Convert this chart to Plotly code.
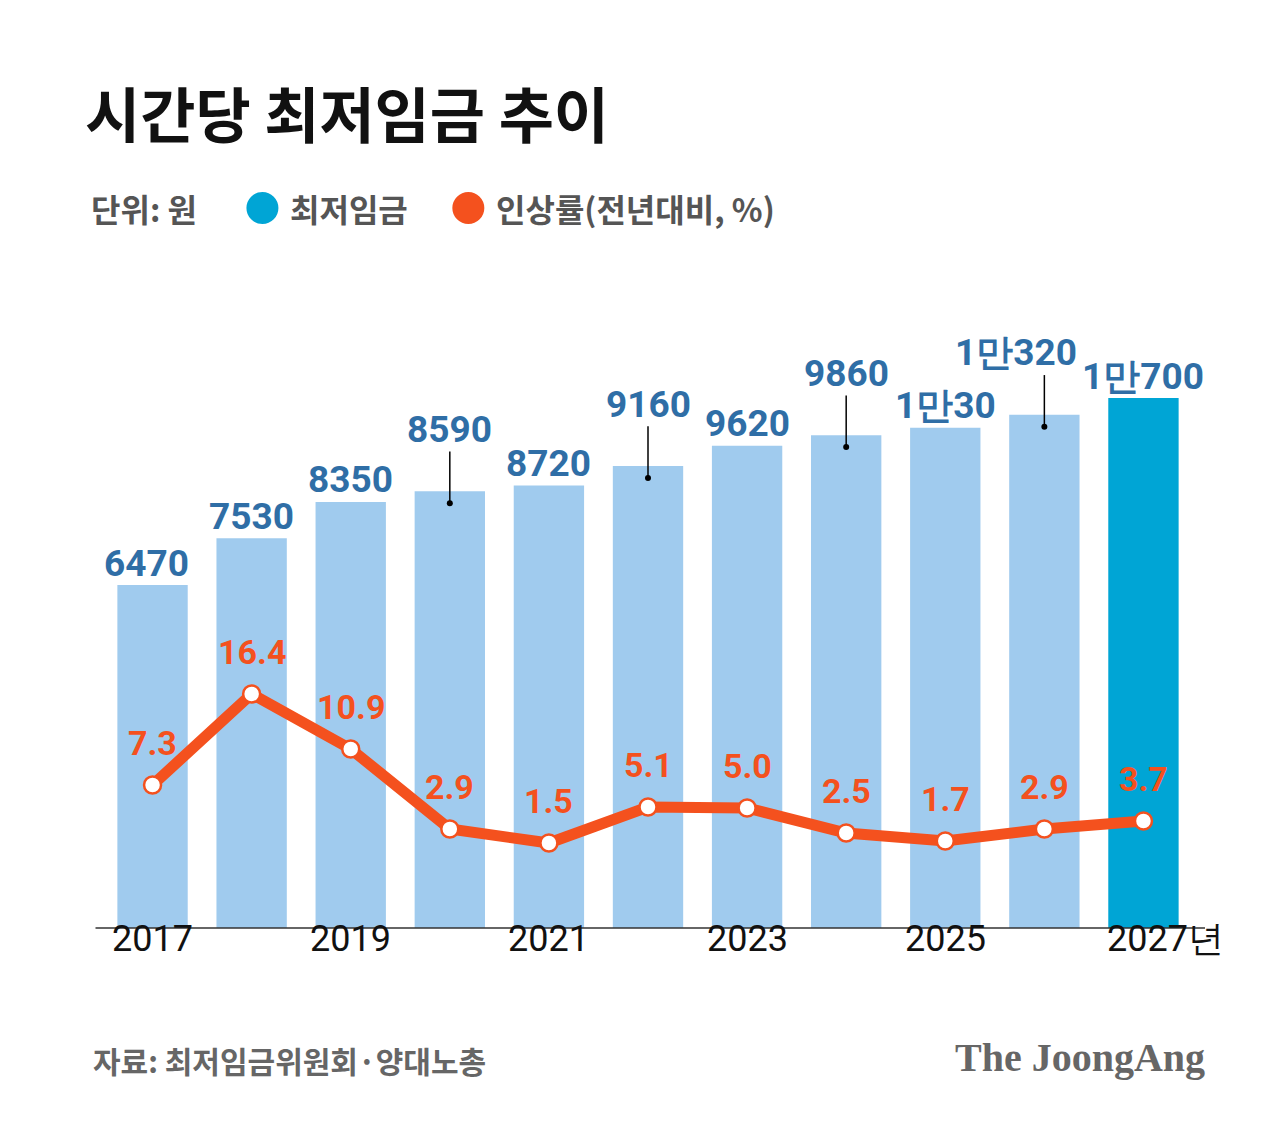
import plotly.graph_objects as go

years = [2017, 2018, 2019, 2020, 2021, 2022, 2023, 2024, 2025, 2026, 2027]
wage = [6470, 7530, 8350, 8590, 8720, 9160, 9620, 9860, 10030, 10320, 10700]
wage_labels = ["6470", "7530", "8350", "8590", "8720", "9160", "9620", "9860", "1만30", "1만320", "1만700"]
rate = [7.3, 16.4, 10.9, 2.9, 1.5, 5.1, 5.0, 2.5, 1.7, 2.9, 3.7]
rate_labels = ["7.3", "16.4", "10.9", "2.9", "1.5", "5.1", "5.0", "2.5", "1.7", "2.9", "3.7"]
raised = [False, False, False, True, False, True, False, True, False, True, False]
tick_years = [2017, 2019, 2021, 2023, 2025, 2027]
tick_text = ["2017", "2019", "2021", "2023", "2025", "2027년"]

BASE = -1290
W, H = 1287, 1148
OFF = 8  # page offset seen in the render
L, R, T, B = 102.5 - OFF, 1193 - OFF, 280 - OFF, 928 - OFF

def px(x): return (x - OFF - L) / (R - L)
def py(y): return (B - (y - OFF)) / (B - T)

bar_colors = ["#a0cbee"] * 10 + ["#00a5d5"]
fig = go.Figure()
fig.add_bar(x=years, y=[w - BASE for w in wage], base=BASE, width=0.71,
            marker=dict(color=bar_colors, line_width=0), yaxis="y")
fig.add_scatter(x=years, y=rate, yaxis="y2", mode="lines+markers",
                line=dict(color="#f4511e", width=11),
                marker=dict(size=17, color="white", line=dict(color="#f4511e", width=2.5)))

blue = "#2f6ea6"
xshifts = {2017: -6, 2026: -28}
for x, w, t, r in zip(years, wage, wage_labels, raised):
    shift = 62 if r else 22
    fig.add_annotation(x=x, y=w, yref="y", text="<b>" + t + "</b>", showarrow=False, yshift=shift,
                       font=dict(size=37, color=blue, family="Roboto"), xshift=xshifts.get(x, 0))
    if r:
        fig.add_shape(type="line", x0=x, x1=x, y0=w - 270, y1=w + 900, yref="y",
                      line=dict(color="black", width=1.5))
        fig.add_scatter(x=[x], y=[w - 270], mode="markers", yaxis="y",
                        marker=dict(size=6, color="black"))

for x, v, t in zip(years, rate, rate_labels):
    fig.add_annotation(x=x, y=v, yref="y2", text="<b>" + t + "</b>", showarrow=False, yshift=42,
                       font=dict(size=34, color="#f4511e", family="Roboto"))

for x, t in zip(tick_years, tick_text):
    fig.add_annotation(x=x, y=py(962), yref="paper", text=t, showarrow=False,
                       xshift=22 if x == 2027 else 0,
                       font=dict(size=36, color="#111", family="Roboto"))

fig.add_shape(type="line", xref="paper", yref="paper", x0=px(95), x1=px(1205), y0=0, y1=0,
              line=dict(color="#333", width=1.5))

def txt(x, y, t, size, color, anchor="left", family="Noto Sans CJK KR"):
    fig.add_annotation(x=px(x), y=py(y), xref="paper", yref="paper", text=t, showarrow=False,
                       xanchor=anchor, yanchor="middle", font=dict(size=size, color=color, family=family))

txt(82, 112, "<b>시간당 최저임금 추이</b>", 60, "#111")
txt(88, 208, "<b>단위: 원</b>", 32, "#555")
txt(288, 208, "<b>최저임금</b>", 32, "#555")
txt(494, 208, "<b>인상률(전년대비, %)</b>", 32, "#555")
txt(90, 1060, "<b>자료: 최저임금위원회·양대노총</b>", 30, "#666")
txt(1207, 1057, "<b>The JoongAng</b>", 40, "#666", anchor="right", family="Liberation Serif")
for cx, c in [(262, "#00a5d5"), (468, "#f4511e")]:
    fig.add_shape(type="circle", xref="paper", yref="paper", x0=px(cx - 16), x1=px(cx + 16),
                  y0=py(224), y1=py(192), fillcolor=c, line_width=0)

fig.update_layout(
    width=W, height=H, showlegend=False, plot_bgcolor="white", paper_bgcolor="white",
    margin=dict(l=L, r=W - R, t=T, b=H - B),
    xaxis=dict(range=[2016.5, 2027.5], visible=False),
    yaxis=dict(range=[BASE, BASE + 648 / 0.0442], visible=False),
    yaxis2=dict(range=[-7, 57.8], overlaying="y", visible=False),
)
fig.write_html("out.html")
